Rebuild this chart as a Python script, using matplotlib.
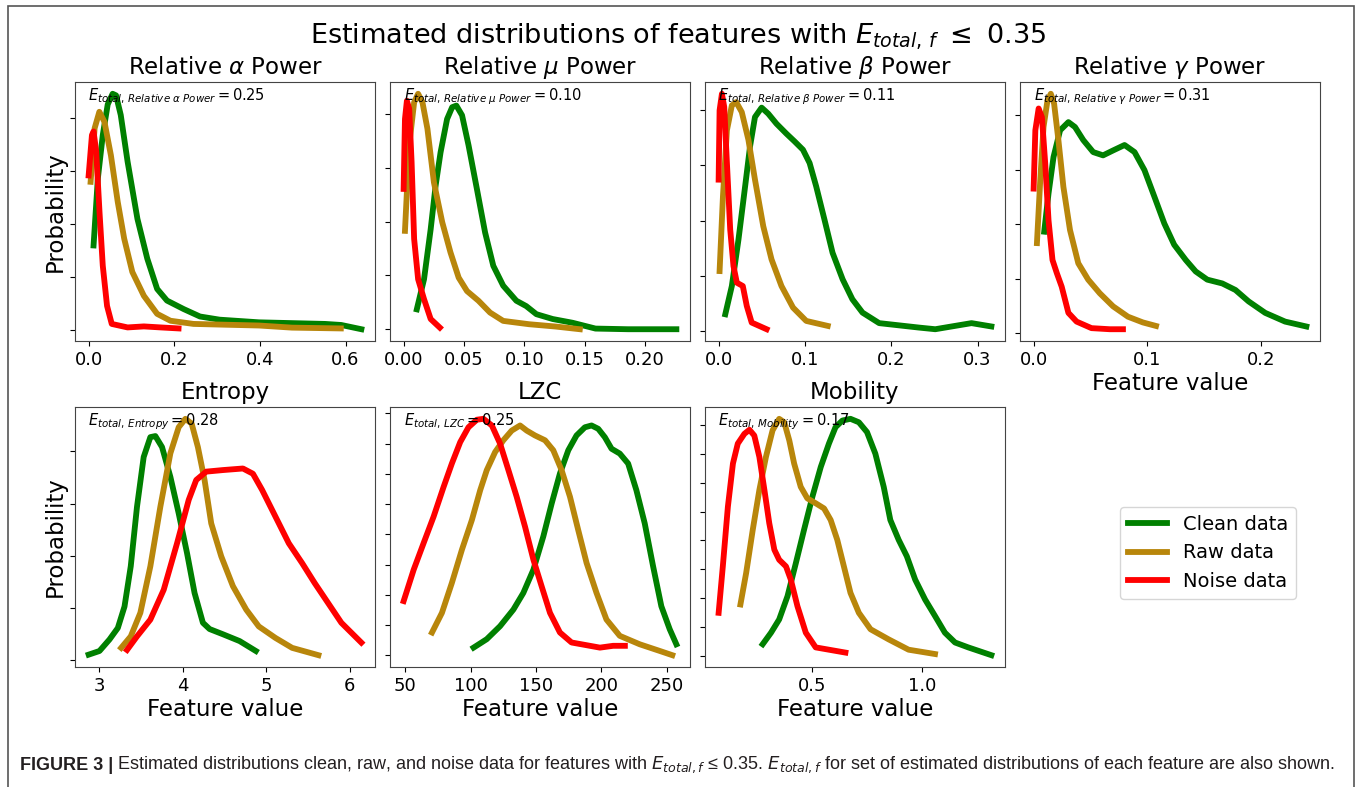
import matplotlib
matplotlib.use("Agg")
import matplotlib.pyplot as plt
from matplotlib.ticker import MultipleLocator, NullFormatter
from matplotlib.patches import Rectangle

# ---- data (y in tick-interval units, ticks unlabeled) ----
alpha_clean_x = [0.0115, 0.0215, 0.033, 0.0446, 0.056, 0.064, 0.075, 0.091, 0.114, 0.137, 0.16, 0.183,
                 0.222, 0.26, 0.306, 0.398, 0.552, 0.59, 0.637]
alpha_clean_y = [1.59, 2.85, 3.67, 4.25, 4.45, 4.42, 4.05, 3.17, 2.09, 1.34, 0.77, 0.55,
                 0.39, 0.25, 0.19, 0.14, 0.11, 0.09, 0.01]
alpha_raw_x = [0.0046, 0.014, 0.025, 0.037, 0.052, 0.068, 0.083, 0.102, 0.129, 0.16, 0.191, 0.245,
               0.32, 0.398, 0.475, 0.589]
alpha_raw_y = [2.79, 3.8, 4.11, 3.92, 3.29, 2.41, 1.72, 1.09, 0.64, 0.30, 0.17, 0.11,
               0.095, 0.08, 0.04, 0.025]
alpha_noise_x = [0.0, 0.0077, 0.0115, 0.0177, 0.0254, 0.033, 0.043, 0.054, 0.091, 0.129, 0.168, 0.21]
alpha_noise_y = [2.91, 3.67, 3.74, 3.36, 2.22, 1.21, 0.45, 0.11, 0.044, 0.063, 0.044, 0.025]

mu_clean_x = [0.0109, 0.0169, 0.0224, 0.0265, 0.0306, 0.036, 0.0402, 0.0437, 0.0484, 0.0538, 0.0607,
              0.0675, 0.0743, 0.0825, 0.0934, 0.1016, 0.11, 0.1235, 0.14, 0.159, 0.186, 0.226]
mu_clean_y = [0.37, 0.93, 1.86, 2.67, 3.29, 3.91, 4.13, 4.16, 3.98, 3.42, 2.61,
              1.80, 1.18, 0.81, 0.53, 0.43, 0.28, 0.19, 0.12, 0.012, 0.0, 0.0]
mu_raw_x = [0.0011, 0.0046, 0.0087, 0.012, 0.0156, 0.0197, 0.0251, 0.032, 0.0388, 0.0456, 0.0525,
            0.062, 0.0716, 0.0825, 0.104, 0.126, 0.146]
mu_raw_y = [1.83, 3.42, 4.22, 4.38, 4.22, 3.73, 2.73, 1.99, 1.43, 0.96, 0.71,
            0.53, 0.31, 0.155, 0.093, 0.05, 0.0]
mu_noise_x = [0.0, 0.0011, 0.0027, 0.0046, 0.0066, 0.0087, 0.012, 0.0169, 0.0224, 0.03]
mu_noise_y = [2.61, 3.91, 4.25, 4.1, 3.11, 1.68, 0.93, 0.56, 0.19, 0.03]

beta_clean_x = [0.0077, 0.0153, 0.023, 0.0307, 0.0364, 0.0421, 0.0498, 0.0575, 0.067, 0.0785, 0.088,
                0.0977, 0.1054, 0.113, 0.1226, 0.132, 0.1437, 0.155, 0.1667, 0.186, 0.209, 0.232,
                0.251, 0.27, 0.293, 0.316]
beta_clean_y = [0.31, 0.82, 1.66, 2.62, 3.34, 3.87, 4.04, 3.93, 3.75, 3.57, 3.43,
                3.28, 3.04, 2.62, 2.02, 1.42, 0.94, 0.58, 0.34, 0.15, 0.11, 0.07,
                0.04, 0.09, 0.15, 0.09]
beta_raw_x = [0.0011, 0.005, 0.0096, 0.0153, 0.0203, 0.0268, 0.0345, 0.0421, 0.0517, 0.0613, 0.0728,
              0.0862, 0.1015, 0.1264]
beta_raw_y = [1.09, 2.44, 3.63, 4.08, 4.14, 3.96, 3.46, 2.74, 1.90, 1.30, 0.82,
              0.43, 0.19, 0.10]
beta_noise_x = [0.0, 0.0011, 0.0038, 0.0065, 0.0096, 0.0134, 0.0172, 0.0211, 0.028, 0.0326, 0.0383, 0.0556]
beta_noise_y = [2.74, 3.99, 4.29, 4.05, 3.04, 1.84, 1.18, 0.88, 0.82, 0.46, 0.16, 0.04]

gamma_clean_x = [0.0093, 0.0131, 0.0175, 0.0233, 0.0306, 0.0364, 0.0437, 0.0524, 0.0611, 0.0699, 0.08,
                 0.0888, 0.0975, 0.1063, 0.115, 0.1237, 0.1339, 0.1426, 0.1528, 0.166, 0.1776,
                 0.1892, 0.2038, 0.2213, 0.24]
gamma_clean_y = [1.86, 2.56, 3.23, 3.72, 3.87, 3.78, 3.54, 3.32, 3.26, 3.35, 3.45,
                 3.32, 2.99, 2.50, 2.01, 1.62, 1.34, 1.13, 0.98, 0.91, 0.79,
                 0.58, 0.37, 0.21, 0.12]
gamma_raw_x = [0.0029, 0.0058, 0.0087, 0.0122, 0.0151, 0.018, 0.0218, 0.0262, 0.032, 0.0393, 0.048,
               0.0582, 0.0699, 0.083, 0.0961, 0.1077]
gamma_raw_y = [1.65, 2.80, 3.78, 4.27, 4.39, 4.21, 3.54, 2.68, 1.89, 1.28, 0.98,
               0.73, 0.49, 0.30, 0.195, 0.13]
gamma_noise_x = [0.0, 0.0015, 0.0044, 0.0073, 0.0102, 0.0131, 0.0166, 0.0204, 0.0247, 0.0306, 0.0378,
                 0.0509, 0.067, 0.0786]
gamma_noise_y = [2.65, 3.72, 4.12, 3.96, 3.11, 2.07, 1.34, 1.10, 0.85, 0.37, 0.21,
                 0.09, 0.07, 0.07]

entropy_clean_x = [2.87, 3.0, 3.12, 3.22, 3.30, 3.375, 3.45, 3.53, 3.61, 3.67, 3.75, 3.85, 3.95,
                   4.05, 4.14, 4.24, 4.32, 4.48, 4.68, 4.875]
entropy_clean_y = [0.11, 0.18, 0.40, 0.62, 1.03, 1.80, 2.94, 3.89, 4.27, 4.29, 4.08, 3.51, 2.81,
                   2.05, 1.29, 0.72, 0.60, 0.50, 0.37, 0.18]
entropy_raw_x = [3.26, 3.375, 3.49, 3.61, 3.73, 3.85, 3.95, 4.03, 4.105, 4.18, 4.26, 4.34, 4.46,
                 4.60, 4.76, 4.91, 5.11, 5.31, 5.625]
entropy_raw_y = [0.24, 0.46, 0.91, 1.80, 2.94, 3.96, 4.46, 4.62, 4.53, 4.08, 3.45, 2.62, 1.99,
                 1.42, 0.97, 0.65, 0.43, 0.24, 0.10]
entropy_noise_x = [3.33, 3.45, 3.61, 3.77, 3.93, 4.07, 4.16, 4.28, 4.48, 4.72, 4.84, 4.95, 5.11,
                   5.27, 5.43, 5.58, 5.74, 5.90, 6.14]
entropy_noise_y = [0.20, 0.46, 0.78, 1.35, 2.24, 3.07, 3.45, 3.61, 3.64, 3.67, 3.57, 3.26, 2.75,
                   2.24, 1.86, 1.48, 1.10, 0.72, 0.34]

lzc_clean_x = [102.2, 112.3, 122.5, 132.7, 140.3, 148, 155.6, 162, 168.3, 174.7, 181, 187.4, 192.5,
               197.6, 202.7, 207.8, 214.1, 220.5, 226.8, 233.2, 239.6, 245.9, 252.3, 257.4]
lzc_clean_y = [0.25, 0.53, 0.96, 1.51, 2.06, 2.83, 3.93, 5.02, 6.01, 6.78, 7.27, 7.54, 7.60,
               7.49, 7.21, 6.83, 6.67, 6.34, 5.46, 4.36, 2.94, 1.62, 0.86, 0.36]
lzc_raw_x = [70.4, 78, 85.6, 93.3, 100.9, 107.3, 112.3, 118.7, 125, 131.4, 137.8, 142.9, 149.2,
             156.9, 163.2, 169.6, 176, 182.3, 188.7, 196.3, 203.9, 214.1, 229.4, 244.7, 254.3]
lzc_raw_y = [0.75, 1.40, 2.39, 3.49, 4.47, 5.46, 6.12, 6.72, 7.11, 7.43, 7.60, 7.43, 7.27,
             7.11, 6.78, 6.12, 5.24, 4.14, 3.05, 2.06, 1.18, 0.64, 0.36, 0.14, 0.0]
lzc_noise_x = [48.7, 56.4, 64, 71.6, 79.3, 85.6, 92, 98.3, 104.7, 109.8, 116.2, 122.5, 128.9,
               135.2, 141.6, 148, 154.3, 160.7, 168.3, 177.2, 188.7, 198.9, 209, 218]
lzc_noise_y = [1.79, 2.83, 3.71, 4.58, 5.57, 6.34, 7.05, 7.54, 7.79, 7.82, 7.60, 7.0, 6.12,
               5.24, 4.25, 3.16, 2.28, 1.40, 0.75, 0.42, 0.33, 0.25, 0.31, 0.31]

mobility_clean_x = [0.274, 0.312, 0.349, 0.387, 0.425, 0.462, 0.5, 0.538, 0.575, 0.605, 0.636, 0.673,
                    0.711, 0.748, 0.786, 0.824, 0.854, 0.892, 0.929, 0.967, 1.012, 1.057, 1.102,
                    1.148, 1.208, 1.313]
mobility_clean_y = [0.40, 0.80, 1.26, 2.07, 3.22, 4.37, 5.52, 6.55, 7.36, 7.93, 8.16, 8.22,
                    8.10, 7.76, 7.01, 5.86, 4.71, 4.02, 3.45, 2.64, 1.95, 1.38, 0.80,
                    0.46, 0.29, 0.02]
mobility_raw_x = [0.173, 0.199, 0.229, 0.259, 0.289, 0.319, 0.349, 0.372, 0.395, 0.417, 0.447, 0.477,
                  0.515, 0.553, 0.583, 0.613, 0.643, 0.673, 0.711, 0.764, 0.846, 0.937, 1.057]
mobility_raw_y = [1.78, 2.87, 4.37, 5.75, 6.90, 7.82, 8.22, 8.10, 7.47, 6.67, 5.86, 5.46,
                  5.29, 5.11, 4.71, 4.02, 3.10, 2.18, 1.49, 0.92, 0.57, 0.21, 0.06]
mobility_noise_x = [0.074, 0.093, 0.116, 0.139, 0.161, 0.191, 0.214, 0.236, 0.259, 0.282, 0.304,
                    0.327, 0.349, 0.380, 0.402, 0.432, 0.47, 0.515, 0.575, 0.65]
mobility_noise_y = [1.49, 3.10, 5.17, 6.67, 7.36, 7.70, 7.84, 7.64, 6.90, 5.75, 4.60,
                    3.68, 3.33, 3.10, 2.64, 1.72, 0.80, 0.29, 0.21, 0.11]

titles = [r"Relative $\alpha$ Power", r"Relative $\mu$ Power", r"Relative $\beta$ Power",
          r"Relative $\gamma$ Power", "Entropy", "LZC", "Mobility"]
sub_names = [r"Relative\ \alpha\ Power", r"Relative\ \mu\ Power", r"Relative\ \beta\ Power",
             r"Relative\ \gamma\ Power", "Entropy", "LZC", "Mobility"]
e_total = [0.25, 0.10, 0.11, 0.31, 0.28, 0.25, 0.17]
x_steps = [0.2, 0.05, 0.1, 0.1, 1, 50, 0.5]

series = [
    (alpha_clean_x, alpha_clean_y, alpha_raw_x, alpha_raw_y, alpha_noise_x, alpha_noise_y),
    (mu_clean_x, mu_clean_y, mu_raw_x, mu_raw_y, mu_noise_x, mu_noise_y),
    (beta_clean_x, beta_clean_y, beta_raw_x, beta_raw_y, beta_noise_x, beta_noise_y),
    (gamma_clean_x, gamma_clean_y, gamma_raw_x, gamma_raw_y, gamma_noise_x, gamma_noise_y),
    (entropy_clean_x, entropy_clean_y, entropy_raw_x, entropy_raw_y, entropy_noise_x, entropy_noise_y),
    (lzc_clean_x, lzc_clean_y, lzc_raw_x, lzc_raw_y, lzc_noise_x, lzc_noise_y),
    (mobility_clean_x, mobility_clean_y, mobility_raw_x, mobility_raw_y, mobility_noise_x, mobility_noise_y),
]

# caption math font (only used by texts with math_fontfamily="custom")
plt.rcParams["mathtext.it"] = "Liberation Sans Narrow:italic"
plt.rcParams["mathtext.rm"] = "Liberation Sans Narrow"

W, H = 1357, 787
fig = plt.figure(figsize=(W / 100, H / 100), dpi=100)

# outer frame of the figure page
fig.patches.append(Rectangle((7.5 / W, -0.02), 1346 / W, 1.02 - 6 / H, transform=fig.transFigure,
                             fill=False, edgecolor="#555555", lw=1.2))

fig.text(0.5, 1 - 37 / H, r"Estimated distributions of features with $E_{total,\,f}$ $\leq$ 0.35",
         ha="center", va="center", fontsize=19.5, math_fontfamily="dejavusans")

row_tops = [82, 407]
row_bottoms = [341, 667]
lefts = [75, 390, 705, 1020]

lines = None
for i in range(7):
    r, c = divmod(i, 4)
    ax = fig.add_axes([lefts[c] / W, 1 - row_bottoms[r] / H, 300 / W,
                       (row_bottoms[r] - row_tops[r]) / H])
    cx, cy, rx, ry, nx, ny = series[i]
    l1, = ax.plot(cx, cy, color="green", lw=4.2, solid_joinstyle="round", label="Clean data")
    l2, = ax.plot(rx, ry, color="darkgoldenrod", lw=4.2, solid_joinstyle="round", label="Raw data")
    l3, = ax.plot(nx, ny, color="red", lw=4.2, solid_joinstyle="round", label="Noise data")
    lines = [l1, l2, l3]
    ax.set_title(titles[i], fontsize=16.5)
    ax.yaxis.set_major_locator(MultipleLocator(1))
    ax.yaxis.set_major_formatter(NullFormatter())
    ax.xaxis.set_major_locator(MultipleLocator(x_steps[i]))
    ax.tick_params(labelsize=13)
    for s in ax.spines.values():
        s.set_color("#444444")
    ax.text(0.045, 0.93, r"$E_{total,\,%s} = %.2f$" % (sub_names[i], e_total[i]),
            transform=ax.transAxes, fontsize=10.5, va="baseline", math_fontfamily="dejavusans")
    if c == 0:
        ax.set_ylabel("Probability", fontsize=16.5, labelpad=-1)
    if r == 1 or i == 3:
        ax.set_xlabel("Feature value", fontsize=16.5, labelpad=2)

fig.legend(lines, ["Clean data", "Raw data", "Noise data"], loc="center",
           bbox_to_anchor=(1208 / W, 1 - 553 / H), fontsize=14)

# caption
cap_font = ["Liberation Sans Narrow", "Liberation Sans", "DejaVu Sans"]
fig.canvas.draw()
rend = fig.canvas.get_renderer()
b = fig.text(20 / W, 1 - 765 / H, "FIGURE 3 |", family=cap_font, fontweight="bold",
             fontsize=13, color="#231f20", va="center")
bb = b.get_window_extent(rend)
fig.text((bb.x1 + 4) / W, 1 - 765 / H,
         r"Estimated distributions clean, raw, and noise data for features with $E_{total,f}$ ≤ 0.35. "
         r"$E_{total,f}$ for set of estimated distributions of each feature are also shown.",
         family=cap_font, fontsize=13, color="#231f20", va="center", math_fontfamily="custom")

fig.savefig("out.png", dpi=100)
